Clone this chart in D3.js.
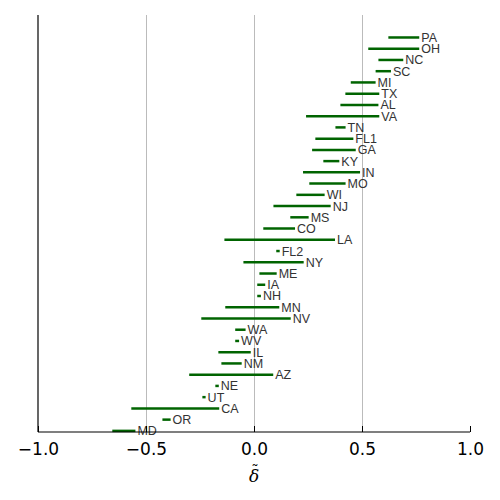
<!DOCTYPE html>
<html>
<head>
<meta charset="utf-8">
<script src="https://cdnjs.cloudflare.com/ajax/libs/d3/7.8.5/d3.min.js"></script>
<style>
  body { margin: 0; background: #fff; }
  .grid line { stroke: #bbb; stroke-width: 1; }
  .grid path { display: none; }
</style>
</head>
<body>
<script>
// state labels, top to bottom
var states = ["PA","OH","NC","SC","MI","TX","AL","VA","TN","FL1","GA","KY","IN","MO",
  "WI","NJ","MS","CO","LA","FL2","NY","ME","IA","NH","MN","NV","WA","WV","IL","NM",
  "AZ","NE","UT","CA","OR","MD"];
// lower and upper ends of each interval
var lows = [0.622,0.529,0.576,0.563,0.448,0.423,0.400,0.241,0.377,0.284,0.269,0.321,0.227,0.256,
  0.196,0.090,0.168,0.043,-0.137,0.103,-0.049,0.025,0.015,0.015,-0.133,-0.244,-0.087,-0.087,-0.165,-0.151,
  -0.300,-0.179,-0.239,-0.568,-0.424,-0.656];
var highs = [0.765,0.765,0.691,0.634,0.563,0.580,0.576,0.580,0.424,0.460,0.471,0.395,0.491,0.424,
  0.327,0.355,0.253,0.190,0.375,0.119,0.230,0.105,0.052,0.032,0.117,0.170,-0.039,-0.069,-0.015,-0.057,
  0.089,-0.163,-0.224,-0.161,-0.386,-0.549];
var xTicks = [-1.0,-0.5,0.0,0.5,1.0];

var W = 500, H = 500;
var mLeft = 38, mRight = 470, mTop = 15, mBottom = 432;

var svg = d3.select("body").append("svg")
    .attr("width", W)
    .attr("height", H);

var x = d3.scaleLinear().domain([-1, 1]).range([mLeft, mRight]);
var n = states.length;
var y = d3.scaleLinear().domain([-0.1, 37]).range([mBottom, mTop]);

// vertical grid lines
svg.append("g")
    .attr("class", "grid")
    .attr("transform", "translate(0," + mBottom + ")")
    .call(d3.axisBottom(x).tickValues([-0.5, 0, 0.5])
        .tickSize(-(mBottom - mTop)).tickFormat(""));

var rows = states.map(function(s, i) {
    return { name: s, lo: lows[i], hi: highs[i], idx: n - 1 - i };
});

svg.selectAll("line.iv")
    .data(rows)
  .enter().append("line")
    .attr("class", "iv")
    .attr("x1", function(d) { return x(d.lo); })
    .attr("x2", function(d) { return x(d.hi); })
    .attr("y1", function(d) { return y(d.idx); })
    .attr("y2", function(d) { return y(d.idx); })
    .style("stroke", "#006400")
    .style("stroke-width", 2.5);

svg.selectAll("text.lab")
    .data(rows)
  .enter().append("text")
    .attr("class", "lab")
    .attr("x", function(d) { return x(d.hi) + 2; })
    .attr("y", function(d) { return y(d.idx); })
    .attr("dy", "0.36em")
    .style("font-family", "Liberation Sans, Arial, sans-serif")
    .style("font-size", "12.5px")
    .style("fill", "#333")
    .text(function(d) { return d.name; });

// left spine
svg.append("line")
    .attr("x1", mLeft).attr("x2", mLeft)
    .attr("y1", mTop).attr("y2", mBottom)
    .style("stroke", "#000").style("stroke-width", 1.2);

// bottom axis, ticks pointing inward
var xAxis = svg.append("g")
    .attr("transform", "translate(0," + mBottom + ")")
    .call(d3.axisBottom(x).tickValues(xTicks).tickSize(-6).tickPadding(11)
        .tickFormat(function(d) { return d3.format(".1f")(d).replace("-", "\u2212"); }));
xAxis.select(".domain").attr("d", "M" + mLeft + ",0H" + mRight).style("stroke-width", 1.2);
xAxis.selectAll(".tick line").style("stroke", "#000");
xAxis.selectAll("text")
    .attr("dy", "0.71em")
    .style("font-family", "DejaVu Sans, sans-serif")
    .style("font-size", "17px")
    .style("fill", "#000");

// x label: delta with a tilde on top
svg.append("text")
    .attr("x", x(0))
    .attr("y", 482)
    .style("text-anchor", "middle")
    .style("font-family", "DejaVu Serif, serif")
    .style("font-style", "italic")
    .style("font-size", "17px")
    .text("\u03B4");
svg.append("text")
    .attr("x", x(0) + 1)
    .attr("y", 476)
    .style("text-anchor", "middle")
    .style("font-family", "DejaVu Serif, serif")
    .style("font-size", "15px")
    .text("\u02DC");
</script>
</body>
</html>
